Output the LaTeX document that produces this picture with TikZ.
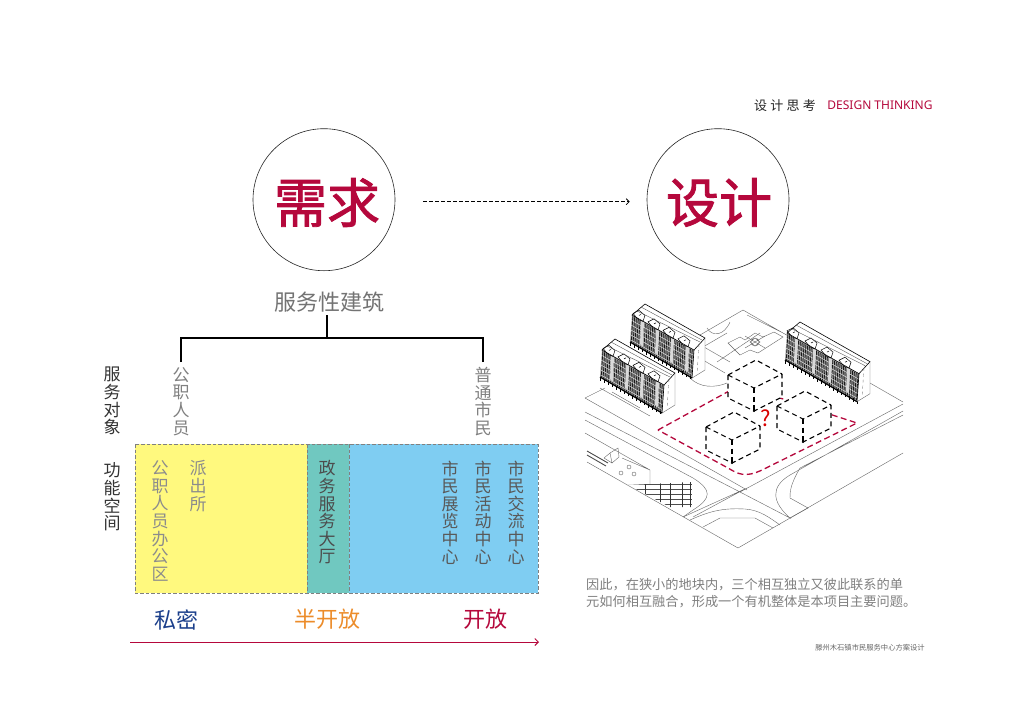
\documentclass[tikz,border=0pt]{standalone}
\usepackage{fontspec}
\usepackage{xcolor}
\usetikzlibrary{arrows.meta,calc,positioning}
\newfontfamily\cjk{Noto Sans CJK SC}
\newfontfamily\cjkheavy[FakeBold=1.6]{Noto Sans CJK SC}
\newfontfamily\latinsans{Noto Sans}
\definecolor{needred}{HTML}{B5083C}
\definecolor{privateblue}{HTML}{1B3F8B}
\definecolor{halforange}{HTML}{EC8C2A}
\definecolor{zoneyellow}{HTML}{FFF97E}
\definecolor{zoneteal}{HTML}{70C8C0}
\definecolor{zoneblue}{HTML}{7FCDF2}
\tikzset{
  bigcircle/.style={circle,draw=black!85,line width=0.6pt,minimum size=142pt,inner sep=0pt},
  bigword/.style={inner sep=0pt,text=needred,font=\cjkheavy\fontsize{53}{53}\selectfont},
  treeline/.style={black,line width=1.4pt},
  vlabel/.style={align=center,inner sep=0pt,text=black!50,font=\cjk\fontsize{17}{17.6}\selectfont},
  vhead/.style={vlabel,text=black!80},
  vzone/.style={vlabel,text=black!55},
  openlabel/.style={inner sep=0pt,font=\cjk\fontsize{22}{22}\selectfont},
  siteline/.style={black!60,line width=0.4pt},
  redline/.style={needred,line width=1.3pt,dash pattern=on 6pt off 3.5pt},
  cubeline/.style={black,line width=1.1pt,dash pattern=on 5pt off 3.5pt}
}
\newcommand{\bldg}[4]{%
  \begin{scope}[shift={(#1,#2)}]
    \pgfmathsetmacro{\ey}{0.565*#3}
    \fill[white] (0,0)--(13,-11)--(#3+11,\ey-12)--(#3+11,\ey+20)--(#3-2,\ey+28)--(-2,27)--cycle;
    \fill[black!40] (0,0)--(#3,\ey)--(#3-2,\ey+28)--(-2,27)--cycle;
    \foreach \t in {0.8,2.6,...,#3}{
      \pgfmathsetmacro{\ty}{0.565*\t}
      \draw[black!90,line width=0.75pt] (\t,\ty+1)--++(-1.5,26);
    }
    \foreach \k in {5,10,...,25}{
      \draw[white,line width=0.35pt] (-1,\k)--(#3-1,\ey+\k);
    }
    \foreach \t in {#4}{
      \pgfmathsetmacro{\ty}{0.565*\t}
      \fill[black!15] (\t+3,\ty+1)--(\t+6,\ty+3)--(\t+5,\ty+28)--(\t+2,\ty+26)--cycle;
      \draw[black,line width=0.5pt,fill=white] (\t-5,\ty-5)--(\t+1,\ty-8)--(\t+7,\ty-3)--(\t+5,\ty+3)--(\t,\ty+1)--cycle;
      \draw[black,line width=0.5pt] (\t+1,\ty-3)--(\t+3,\ty-4);
    }
    \draw[black,line width=0.6pt] (0,0)--(13,-11)--(#3+11,\ey-12)--(#3,\ey)--cycle;
    \draw[black!70,line width=0.35pt] (5,-4)--(#3+6,\ey-8) (9,-8)--(#3+8,\ey-10);
    \draw[black,line width=1.2pt] (-2,27)--(#3-2,\ey+28);
    \foreach \t in {0,4,...,#3}{
      \pgfmathsetmacro{\ty}{0.565*\t}
      \draw[black,line width=0.9pt] (\t-2,\ty+27)--++(0,3.5);
    }
    \draw[black!50,line width=0.4pt,dashed] (#3+5,\ey-6)--(#3+3,\ey+24);
    \draw[black!60,line width=0.4pt] (#3+11,\ey-12)--(#3+11,\ey+20)--(#3-2,\ey+28);
    \draw[black,line width=0.6pt] (#3,\ey)--(#3-2,\ey+28);
  \end{scope}}
\newcommand{\cubeat}[2]{%
  \begin{scope}[shift={(#1,#2)}]
    \fill[white] (-26,-13)--(2,-28)--(28,-14)--(28,9)--(0,23)--(-26,10)--cycle;
    \draw[cubeline] (-26,-13)--(2,-28)--(28,-14);
    \draw[cubeline] (-26,-13)--(0,0)--(28,-14);
    \draw[cubeline] (-26,-13)--(-26,10)--(0,23)--(28,9)--(28,-14);
    \draw[cubeline] (0,0)--(0,23);
    \fill[black] (0,23) circle (1.1pt);
  \end{scope}}
\begin{document}
\begin{tikzpicture}[x=1pt,y=-1pt]
\useasboundingbox (0,0) rectangle (1024,724);
\fill[white] (0,0) rectangle (1024,724);

\node[inner sep=0pt,text=black!85,font=\cjk\fontsize{13}{13}\selectfont] (headcn) at (785,105.5) {设\hspace{3.3pt}计\hspace{3.3pt}思\hspace{3.3pt}考};
\node[inner sep=0pt,text=needred,font=\latinsans\fontsize{12}{12}\selectfont] (headen) at (880,105.5) {DESIGN THINKING};

\node[bigcircle] (need) at (324,199.7) {};
\node[bigcircle] (design) at (718,199.7) {};
\node[bigword] (needword) at (327,202.5) {需求};
\node[bigword] (designword) at (719,202.5) {设计};
\draw[black,line width=0.8pt,dash pattern=on 3.5pt off 2.5pt,-{Straight Barb[length=3pt,width=6pt]},shorten <=28pt,shorten >=17pt] ([yshift=-2pt]need.east)--([yshift=-2pt]design.west);

\node[inner sep=0pt,text=black!55,font=\cjk\fontsize{22}{22}\selectfont] (root) at (329,302) {服务性建筑};
\node[vlabel] (staff) at (181,401.5) {公\\职\\人\\员};
\node[vlabel] (citizen) at (483,401.5) {普\\通\\市\\民};
\node[vhead] (target) at (112,401) {服\\务\\对\\象};
\node[vhead] (space) at (112,497) {功\\能\\空\\间};
\coordinate (fork) at (327,338);
\draw[treeline,shorten <=3pt] (fork|-root.south)--(fork);
\draw[treeline,shorten <=5pt] (staff.north)|-(fork);
\draw[treeline,shorten <=5pt] (citizen.north)|-(fork);

\fill[zoneyellow] (135,444) rectangle (307,593);
\fill[zoneteal] (307,444) rectangle (349,593);
\fill[zoneblue] (349,444) rectangle (538,593);
\draw[black!50,line width=0.9pt,dash pattern=on 3.5pt off 2pt] (135,444) rectangle (538,593);
\draw[black!50,line width=0.7pt,dash pattern=on 3.5pt off 2pt] (307,444)--(307,593) (349,444)--(349,593);

\node[vzone,text=black!45,anchor=north] (office) at (160,460.5) {公\\职\\人\\员\\办\\公\\区};
\node[vzone,text=black!45,anchor=north] (police) at (198,460.5) {派\\出\\所};
\node[vzone,text=black!70,anchor=north] (hall) at (327,460.5) {政\\务\\服\\务\\大\\厅};
\node[vzone,text=black!65,anchor=north] (expo) at (450,460.5) {市\\民\\展\\览\\中\\心};
\node[vzone,text=black!65,anchor=north] (activity) at (483,460.5) {市\\民\\活\\动\\中\\心};
\node[vzone,text=black!65,anchor=north] (exchange) at (516,460.5) {市\\民\\交\\流\\中\\心};

\node[openlabel,text=privateblue] (private) at (176,620) {私密};
\node[openlabel,text=halforange] (halfopen) at (327,619) {半开放};
\node[openlabel,text=needred] (open) at (485,619) {开放};
\coordinate (axisstart) at (130,642);
\coordinate (axisend) at (539,642);
\draw[needred,line width=1pt,-{Straight Barb[length=3.5pt,width=7pt]}] (axisstart)--(axisend);

\draw[siteline] (743,310)--(903,402) (700,335)--(743,310) (747,315)--(787,335)
  (703,347)--(727,333) (717,362)--(760,333) (697,343)--(730,362) (703,360)--(725,373)
  (740,492)--(903,404) (790,475)--(903,411) (800,468)--(903,415) (903,453)--(738,548)
  (585,398)--(747,490) (585,398)--(605,388) (600,388)--(650,416) (612,392)--(640,408)
  (585,412)--(740,492) (585,433)--(650,470) (587,462)--(738,548) (683,517)--(747,488)
  (693,517)--(743,490) (622,458)--(650,470) (650,470)--(650,484);
\draw[siteline] (585,420)--(693,478) .. controls (712,490) and (712,498) .. (693,510)--(683,517);
\draw[siteline] (790,475) .. controls (770,487) and (772,502) .. (790,518)--(740,492);
\draw[siteline] (790,518)--(808,508)--(790,498) .. controls (790,492) and (790,485) .. (800,468);
\draw[siteline] (690,520) .. controls (712,510) and (725,508) .. (745,509) .. controls (760,510) and (770,518) .. (780,525);
\draw[siteline] (703,527)--(720,518)--(755,518)--(773,528);
\draw[siteline] (707,328) .. controls (712,337) and (724,336) .. (730,322);
\draw[siteline] (690,378) .. controls (700,388) and (715,388) .. (727,383);
\draw[siteline] (728,343)--(740,337)--(745,340)--(755,333)--(763,337)--(774,332)--(783,337)--(758,353)--(750,350)--(740,355)--cycle;
\draw[siteline] (755,342) circle (4pt) (750,342)--(755,338)--(760,342)--(755,346)--cycle (745,336)--(765,348) (765,336)--(745,348);
\draw[black!70,line width=0.9pt] (587,451)--(608,463) (587,455)--(606,466);
\draw[black!60,line width=0.4pt] (610,453)--(618,448)--(619,457)--(612,463)--cycle (604,458)--(610,453) (604,458)--(612,463);
\draw[black!60,line width=0.4pt] (629,467) circle (2pt) (621,473) circle (2pt) (634,474) circle (2pt);
\begin{scope}
  \clip (628,485)--(692,482)--(692,507)--(670,507)--cycle;
  \foreach \y in {484,489,494,499,504}{\draw[black!70,line width=0.4pt] (628,\y)--(692,\y);}
  \foreach \x in {645,660,670,682,690}{\draw[black!80,line width=0.5pt] (\x,480)--(\x,510);}
\end{scope}

\bldg{632}{315}{62}{6,21,36,51}
\bldg{602}{350}{62}{6,21,36,51}
\bldg{787}{333}{72}{5,23,39,57}

\draw[redline] (658,430)--(740,385)--(857,423)--(762,470) .. controls (745,478) and (738,474) .. (728,468)--cycle;
\cubeat{754}{388}
\cubeat{732}{440}
\cubeat{803}{419}
\node[inner sep=0pt,text=red!85!black,font=\cjk\fontsize{22}{22}\selectfont] (ask) at (766,418) {?};

\node[inner sep=0pt,text=black!50,anchor=west,align=left,font=\cjk\fontsize{13.2}{17}\selectfont] (para) at (586,593.5) {因此，在狭小的地块内，三个相互独立又彼此联系的单\\元如何相互融合，形成一个有机整体是本项目主要问题。};
\node[inner sep=0pt,text=black!60,font=\cjk\fontsize{7.3}{7.3}\selectfont] (foot) at (870,648) {滕州木石镇市民服务中心方案设计};
\end{tikzpicture}
\end{document}
